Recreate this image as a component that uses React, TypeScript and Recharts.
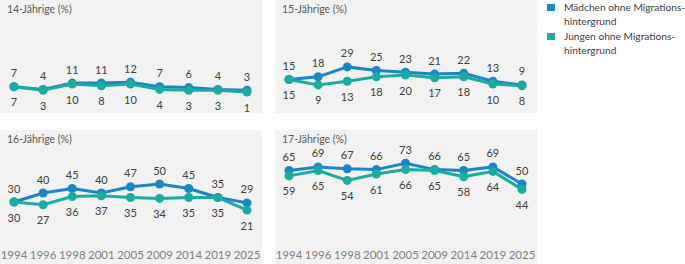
import { LineChart, Line, XAxis, YAxis, LabelList } from "recharts";

const years = ["1994", "1996", "1998", "2001", "2005", "2009", "2014", "2019", "2025"];

const maedchen14 = [7, 4, 11, 11, 12, 7, 6, 4, 3];
const jungen14 = [7, 3, 10, 8, 10, 4, 3, 3, 1];
const maedchen15 = [15, 18, 29, 25, 23, 21, 22, 13, 9];
const jungen15 = [15, 9, 13, 18, 20, 17, 18, 10, 8];
const maedchen16 = [30, 40, 45, 40, 47, 50, 45, 35, 29];
const jungen16 = [30, 27, 36, 37, 35, 34, 35, 35, 21];
const maedchen17 = [65, 69, 67, 66, 73, 66, 65, 69, 50];
const jungen17 = [59, 65, 54, 61, 66, 65, 58, 64, 44];

const BLUE = "#1a86c8";
const TEAL = "#1aac9f";
const FONT = "Lato, 'Open Sans', sans-serif";

const buildRows = (m: number[], j: number[]) =>
  years.map((y, i) => ({ year: y, m: m[i], j: j[i] }));

const labelAbove = (props: any) => {
  const { x, y, value } = props;
  return (
    <text x={x} y={y - 14} textAnchor="middle" dominantBaseline="central" fontSize={11} fill="#404040" fontFamily={FONT}>
      {value}
    </text>
  );
};

const labelBelow = (props: any) => {
  const { x, y, value } = props;
  return (
    <text x={x} y={y + 15} textAnchor="middle" dominantBaseline="central" fontSize={11} fill="#404040" fontFamily={FONT}>
      {value}
    </text>
  );
};

function Panel({
  title,
  m,
  j,
  left,
  top,
  height,
  showYears,
}: {
  title: string;
  m: number[];
  j: number[];
  left: number;
  top: number;
  height: number;
  showYears: boolean;
}) {
  const data = buildRows(m, j);
  return (
    <div style={{ position: "absolute", left, top, width: 262, height, background: "#f2f2f2" }}>
      <div
        style={{
          position: "absolute",
          left: 7,
          top: 3,
          fontSize: 10.5,
          color: "#595959",
          fontFamily: FONT,
          lineHeight: "13px",
        }}
      >
        {title}
      </div>
      <LineChart
        width={262}
        height={height}
        data={data}
        margin={{ top: showYears ? 9 : 3, right: 15, left: 14, bottom: showYears ? 0 : 20 }}
      >
        <XAxis
          dataKey="year"
          hide={!showYears}
          height={35}
          axisLine={false}
          tickLine={false}
          tickMargin={16}
          interval={0}
          tick={{ fontSize: 11.5, fill: "#7f7f7f", fontFamily: FONT }}
        />
        <YAxis hide domain={[0, 100]} />
        <Line
          dataKey="m"
          stroke={BLUE}
          strokeWidth={3}
          dot={{ r: 4.5, fill: BLUE, stroke: BLUE, strokeWidth: 0 }}
          isAnimationActive={false}
        >
          <LabelList dataKey="m" content={labelAbove} />
        </Line>
        <Line
          dataKey="j"
          stroke={TEAL}
          strokeWidth={3}
          dot={{ r: 4.5, fill: TEAL, stroke: TEAL, strokeWidth: 0 }}
          isAnimationActive={false}
        >
          <LabelList dataKey="j" content={labelBelow} />
        </Line>
      </LineChart>
    </div>
  );
}

const legendItems = [
  { color: BLUE, lines: ["Mädchen ohne Migrations-", "hintergrund"] },
  { color: TEAL, lines: ["Jungen ohne Migrations-", "hintergrund"] },
];

export default function App() {
  return (
    <div style={{ position: "absolute", left: 0, top: 0, width: 685, height: 264, background: "#fff", overflow: "hidden" }}>
      <Panel title="14-Jährige (%)" m={maedchen14} j={jungen14} left={0} top={0} height={113} showYears={false} />
      <Panel title="15-Jährige (%)" m={maedchen15} j={jungen15} left={275} top={0} height={113} showYears={false} />
      <Panel title="16-Jährige (%)" m={maedchen16} j={jungen16} left={0} top={130} height={134} showYears />
      <Panel title="17-Jährige (%)" m={maedchen17} j={jungen17} left={275} top={130} height={134} showYears />
      {legendItems.map((item, i) => (
        <div key={i} style={{ position: "absolute", left: 547, top: i * 29, width: 138, height: 28, fontFamily: FONT }}>
          <div style={{ position: "absolute", left: 0, top: 3.5, width: 7.5, height: 7.5, background: item.color }} />
          <div
            style={{
              position: "absolute",
              left: 17,
              top: 0,
              fontSize: 10.2,
              lineHeight: "14px",
              color: "#404040",
              whiteSpace: "nowrap",
            }}
          >
            {item.lines.map((l) => (
              <div key={l}>{l}</div>
            ))}
          </div>
        </div>
      ))}
    </div>
  );
}
